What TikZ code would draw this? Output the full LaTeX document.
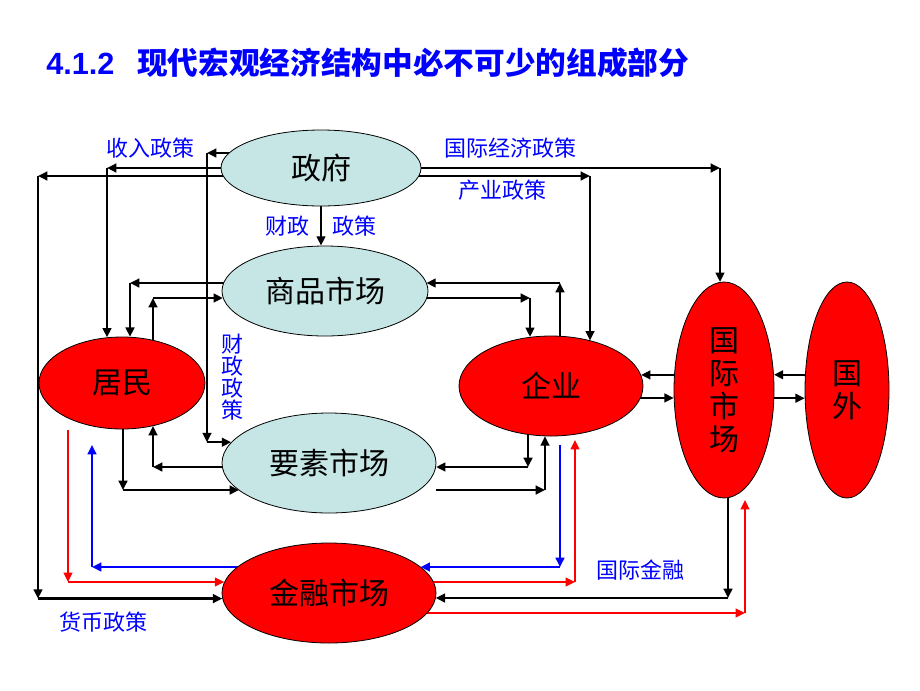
\documentclass[tikz,border=0pt]{standalone}
\usepackage{fontspec}
\setmainfont{Liberation Sans}
\newfontfamily\cjk{Noto Sans CJK SC}
\usetikzlibrary{positioning,arrows.meta,shapes.geometric}
\pgfdeclarelayer{bg}
\pgfsetlayers{bg,main}
\tikzset{
	>={Triangle[length=7pt,width=6.5pt]}
}
\definecolor{pale}{RGB}{198,230,230}
\definecolor{pblue}{RGB}{0,0,255}

\begin{document}
\begin{tikzpicture}[
x = 0.75pt, y = -0.75pt,
every node/.style = {
	font = \cjk,
	align=center,
	inner sep=0pt
},
market/.style = {
	ellipse,
	draw,
	line width = 0.6pt,
	fill = pale,
	font = \cjk\fontsize{22.5pt}{24.75pt}\selectfont
},
agent/.style = {
	ellipse,
	draw,
	line width = 0.6pt,
	fill = red,
	font = \cjk\fontsize{22.5pt}{24.75pt}\selectfont
},
policy/.style = {
	text = pblue,
	font = \cjk\fontsize{16.5pt}{16.5pt}\selectfont
},
flow/.style = {->, line width=1.7pt},
credit/.style = {->, line width=2pt, draw=pblue},
funds/.style = {->, line width=1.4pt, draw=red}
]
\useasboundingbox (0,0) rectangle (920,690);

\node (title) [anchor=west, text=pblue, font=\bfseries\fontsize{23pt}{23pt}\selectfont] at (46,63)
	{4.1.2\hspace{17pt}{\cjk 现代宏观经济结构中必不可少的组成部分}};

\node (gov) [market, minimum width=150pt, minimum height=57pt] at (321,168) {政府};
\node (goods) [market, minimum width=154.5pt, minimum height=67.5pt] at (325,291) {商品市场};
\node (factor) [market, minimum width=160.5pt, minimum height=75pt] at (329,463) {要素市场};
\node (hh) [agent, minimum width=124.5pt, minimum height=69pt] at (122,383) {居民};
\node (firm) [agent, minimum width=138pt, minimum height=75pt] at (551,386) {企业};
\node (finance) [agent, minimum width=160.5pt, minimum height=75pt] at (329,593) {金融市场};
\node (intl) [agent, minimum width=75pt, minimum height=162pt] at (724,390) {国\\际\\市\\场};
\node (abroad) [agent, minimum width=63pt, minimum height=162pt] at (847,390) {国\\外};

\node (income) [policy] at (150,148) {收入政策};
\node (intlpol) [policy] at (510,148) {国际经济政策};
\node (indpol) [policy] at (502,190) {产业政策};
\node (fiscal) [policy] at (232,377) {财\\政\\政\\策};
\node (intlfin) [policy] at (640,570) {国际金融};
\node (monpol) [policy] at (103,622) {货币政策};

\begin{pgfonlayer}{bg}
% government
\coordinate (k1) at (207,153);
\draw[flow] (gov.center |- k1) -- (k1);
\draw[flow] (k1) -- (k1 |- factor.168);
\draw[flow] (k1 |- factor.168) -- (factor.168);

\coordinate (k2) at (107,168);
\draw[flow] (gov.center |- k2) -- (k2);
\draw[flow] (k2) -- (k2 |- hh.108);

\coordinate (k3) at (38,176);
\draw[flow] (gov.center |- k3) -- (k3);
\draw[flow] (k3) -- (k3 |- finance.183);
\draw[flow] (k3 |- finance.183) -- (finance.183);

\coordinate (k4) at (720,168);
\draw[flow] (gov.center |- k4) -- (k4);
\draw[flow] (k4) -- (k4 |- intl.92);

\coordinate (k5) at (590,176);
\draw[flow] (gov.center |- k5) -- (k5);
\draw[flow] (k5) -- (k5 |- firm.49);

\draw[flow] (gov.south) -- node[policy, left=8pt] (fisc1) {财政}
	node[policy, right=8pt] (fisc2) {政策} (gov.south |- goods.north);

% goods market
\coordinate (k7) at (130,283);
\draw[flow] (goods.center |- k7) -- (k7);
\draw[flow] (k7) -- (k7 |- hh.80);
\coordinate (k8) at (153,298);
\draw[flow] (hh.center -| k8) -- (k8);
\draw[flow] (k8) -- (k8 -| goods.184);
\coordinate (k9) at (560,283);
\draw[flow] (firm.center -| k9) -- (k9);
\draw[flow] (k9) -- (k9 -| goods.5);
\coordinate (k10) at (530,298);
\draw[flow] (goods.center |- k10) -- (k10);
\draw[flow] (k10) -- (k10 |- firm.113);

% factor market
\coordinate (k11) at (153,467);
\draw[flow] (factor.center |- k11) -- (k11);
\draw[flow] (k11) -- (k11 |- hh.306);
\coordinate (k12) at (123,490);
\draw[flow] (hh.center -| k12) -- (k12);
\draw[flow] (k12) -- (k12 -| factor.197);
\coordinate (k13) at (528,467);
\draw[flow] (firm.center -| k13) -- (k13);
\draw[flow] (k13) -- (k13 -| factor.358);
\coordinate (k14) at (545,490);
\draw[flow] (factor.east |- k14) -- (k14);
\draw[flow] (k14) -- (k14 |- firm.263);

% financial market
\coordinate (k15) at (92,567);
\coordinate (b1) at (92,445);
\draw[credit] (finance.center |- k15) -- (k15);
\draw[credit] (k15) -- (b1);
\coordinate (r1) at (68,430);
\coordinate (k16) at (68,582);
\draw[funds] (r1) -- (k16);
\draw[funds] (k16) -- (k16 -| finance.174);
\coordinate (b2) at (560,445);
\coordinate (k18) at (560,567);
\draw[credit] (b2) -- (k18);
\draw[credit] (k18) -- (k18 -| finance.16);
\coordinate (k19) at (575,582);
\coordinate (r2) at (575,440);
\draw[funds] (finance.center |- k19) -- (k19);
\draw[funds] (k19) -- (r2);
\coordinate (k20) at (728,598);
\draw[flow] (intl.center -| k20) -- (k20);
\draw[flow] (k20) -- (k20 -| finance.357);
\coordinate (k21) at (745,613);
\coordinate (r3) at (745,500);
\draw[funds] (finance.center |- k21) -- (k21);
\draw[funds] (k21) -- (r3);

% abroad
\draw[flow] (intl.center |- firm.7) -- (firm.7);
\draw[flow] (firm.center |- intl.189) -- (intl.189);
\draw[flow] (abroad.center |- intl.17) -- (intl.17);
\draw[flow] (intl.center |- abroad.191) -- (abroad.191);
\end{pgfonlayer}

\end{tikzpicture}
\end{document}
